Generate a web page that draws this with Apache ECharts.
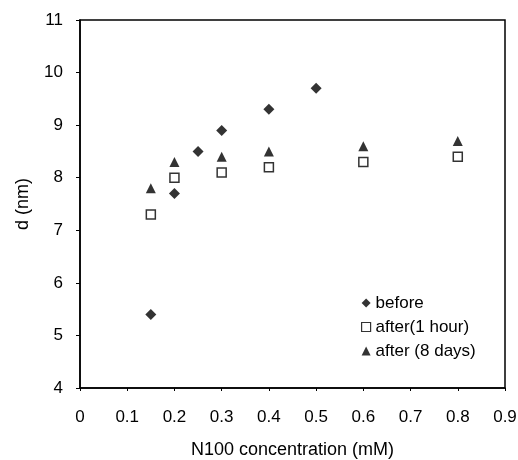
<!DOCTYPE html>
<html><head><meta charset="utf-8">
<script src="https://cdn.jsdelivr.net/npm/echarts@6/dist/echarts.min.js"></script>
<style>html,body{margin:0;padding:0;background:#fff}#c{width:518px;height:460px}</style>
</head><body><div id="c"></div>
<script>
const beforeX = [0.15, 0.2, 0.25, 0.3, 0.4, 0.5];
const beforeY = [5.4, 7.7, 8.5, 8.9, 9.3, 9.7];
const after1hX = [0.15, 0.2, 0.3, 0.4, 0.6, 0.8];
const after1hY = [7.3, 8.0, 8.1, 8.2, 8.3, 8.4];
const after8dX = [0.15, 0.2, 0.3, 0.4, 0.6, 0.8];
const after8dY = [7.8, 8.3, 8.4, 8.5, 8.6, 8.7];
const seriesNames = ['before', 'after(1 hour)', 'after (8 days)'];
const xTicks = [0, 0.1, 0.2, 0.3, 0.4, 0.5, 0.6, 0.7, 0.8, 0.9];
const yTicks = [4, 5, 6, 7, 8, 9, 10, 11];

const zip = (xs, ys) => xs.map((x, i) => [x, ys[i]]);
const font = 'Liberation Sans, Arial, sans-serif';
const chart = echarts.init(document.getElementById('c'));
chart.setOption({
  animation: false,
  backgroundColor: '#fff',
  grid: { left: 80, right: 13, top: 20, bottom: 72, containLabel: false, outerBoundsMode: 'none',
    show: true, borderColor: '#000', borderWidth: 1.5, backgroundColor: 'transparent' },
  xAxis: {
    type: 'value', min: 0, max: 0.9, interval: 0.1,
    name: 'N100 concentration (mM)', nameLocation: 'middle', nameGap: 53,
    nameTextStyle: { fontFamily: font, fontSize: 18, color: '#000' },
    axisLine: { show: true, lineStyle: { color: '#000', width: 1.5 } },
    axisTick: { show: true, inside: false, length: 3, lineStyle: { color: '#000' } },
    splitLine: { show: false },
    axisLabel: { fontFamily: font, fontSize: 17, color: '#000', margin: 21,
      formatter: v => { const t = xTicks.find(a => Math.abs(a - v) < 1e-9); return t === undefined ? '' : String(t); } }
  },
  yAxis: {
    type: 'value', min: 4, max: 11, interval: 1,
    name: 'd (nm)', nameLocation: 'middle', nameGap: 48, nameRotate: 90,
    nameTextStyle: { fontFamily: font, fontSize: 18, color: '#000' },
    axisLine: { show: true, lineStyle: { color: '#000', width: 1.5 } },
    axisTick: { show: true, inside: false, length: 4, lineStyle: { color: '#000' } },
    splitLine: { show: false },
    axisLabel: { fontFamily: font, fontSize: 17, color: '#000', margin: 17,
      formatter: v => yTicks.includes(v) ? String(v) : '' }
  },
  legend: {
    orient: 'vertical', left: 356, top: 289, itemGap: 6, itemWidth: 9, itemHeight: 9, padding: 5,
    textStyle: { fontFamily: font, fontSize: 17, lineHeight: 18, color: '#000' },
    data: [
      { name: seriesNames[0], icon: 'diamond' },
      { name: seriesNames[1], icon: 'rect', itemStyle: { color: '#fff', borderColor: '#000', borderWidth: 1.2 } },
      { name: seriesNames[2], icon: 'triangle' }
    ]
  },
  series: [
    { name: seriesNames[0], type: 'scatter', symbol: 'diamond', symbolSize: 11,
      itemStyle: { color: '#000' }, data: zip(beforeX, beforeY) },
    { name: seriesNames[1], type: 'scatter', symbol: 'rect', symbolSize: 9,
      itemStyle: { color: '#fff', borderColor: '#000', borderWidth: 1.5 }, data: zip(after1hX, after1hY) },
    { name: seriesNames[2], type: 'scatter', symbol: 'triangle', symbolSize: 10,
      itemStyle: { color: '#000' }, data: zip(after8dX, after8dY) }
  ]
});
</script></body></html>
